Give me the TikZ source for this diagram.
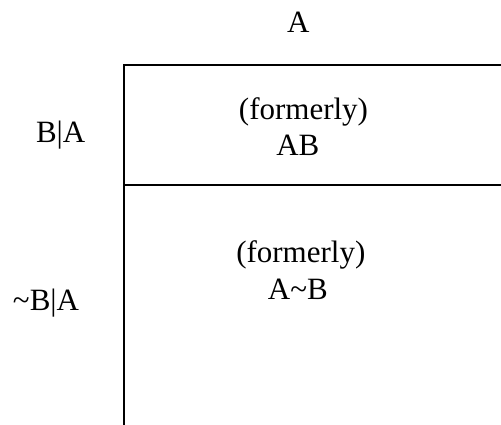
\documentclass[tikz,border=0pt]{standalone}
\usepackage{fontspec}
\setmainfont{Liberation Serif}
\begin{document}
\begin{tikzpicture}[x=1pt,y=-1pt,
  lbl/.style={anchor=base,inner sep=0pt,font=\fontsize{31}{36}\selectfont},
  frame/.style={line width=2pt}]
\useasboundingbox (0,0) rectangle (501,424);
\clip (0,0) rectangle (501,424);
\coordinate (tl) at (124,65);
\coordinate (tr) at (510,65);
\coordinate (bl) at (124,430);
\coordinate (ml) at (124,184.5);
\coordinate (mr) at (510,184.5);
\draw[frame] (bl) -- (tl) -- (tr);
\draw[frame] (ml) -- (mr);
\node[lbl] (a) at (298.3,32.3) {A};
\node[lbl] (ba) at (60.7,142.7) {B|A};
\node[lbl] (nba) at (46,310.7) {\char`\~B|A};
\node[lbl] (f1) at (303.5,119) {(formerly)};
\node[lbl] (ab) at (297.8,155) {AB};
\node[lbl] (f2) at (300.8,262.3) {(formerly)};
\node[lbl] (anb) at (297.8,299) {A\char`\~B};
\end{tikzpicture}
\end{document}
